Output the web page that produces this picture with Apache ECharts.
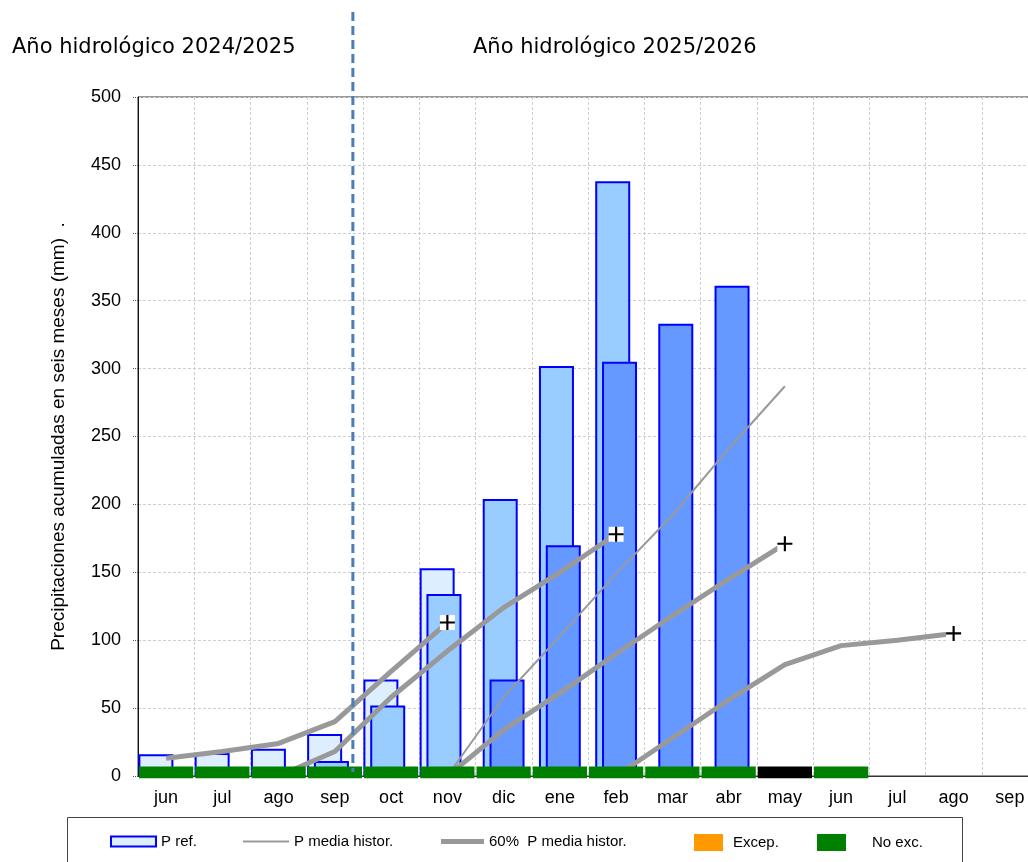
<!DOCTYPE html>
<html>
<head>
<meta charset="utf-8">
<script src="https://cdn.jsdelivr.net/npm/echarts@6/dist/echarts.min.js"></script>
<style>
html, body { margin: 0; padding: 0; background: #fff; }
#chart { width: 1028px; height: 862px; }
</style>
</head>
<body>
<div id="chart"></div>
<script>
// meses: jun 2024 .. sep 2026 (dos años hidrológicos)
var months = ['jun', 'jul', 'ago', 'sep', 'oct', 'nov', 'dic', 'ene', 'feb', 'mar', 'abr', 'may', 'jun', 'jul', 'ago', 'sep'];

// precipitación acumulada en seis meses (mm), tres series solapadas
var pRefA = [16, 17, 20, 31, 71, 153, null, null, null, null, null, null, null, null, null, null];
var pRefB = [null, null, null, 11, 52, 134, 204, 302, 438, null, null, null, null, null, null, null];
var pRefC = [null, null, null, null, null, null, 71, 170, 305, 333, 361, null, null, null, null, null];

// P media histórica acumulada
var pMedia = [null, null, null, null, null, 0, 58, 103, 149, 192, 241, 287, null, null, null, null];

// 60% de la P media histórica, una curva por ventana
var p60a = [13, 18, 24, 40, 77, 113, null, null, null, null, null, null, null, null, null, null];
var p60b = [null, null, 0, 18, 58, 92, 124, 150, 178, null, null, null, null, null, null, null];
var p60c = [null, null, null, null, null, 0, 34, 61, 90, 118, 145, 171, null, null, null, null];
var p60d = [null, null, null, null, null, null, null, null, 0, 28, 56, 82, 96, 100, 105, null];

// estado por mes: 0 = no exc., 1 = excep., 2 = sin dato
var estado = [0, 0, 0, 0, 0, 0, 0, 0, 0, 0, 0, 2, 0, null, null, null];

var yTicks = { min: 0, max: 500, step: 50 };

var chart = echarts.init(document.getElementById('chart'));

var blue = '#0000ff';
var gris = '#999999';
var estadoColor = ['#008000', '#ff9900', '#000000'];

function refBar(data, color) {
    return {
        name: 'P ref.',
        type: 'bar',
        data: data,
        barWidth: 35,
        barGap: '-80.5%',
        itemStyle: { color: color, borderColor: blue, borderWidth: 2 }
    };
}

function p60Line(data) {
    return {
        name: '60% P media histor.',
        type: 'line',
        data: data,
        symbol: 'none',
        z: 3,
        lineStyle: { color: gris, width: 5 },
        itemStyle: { color: gris }
    };
}

// final de cada curva del 60%
var finales = [];
[p60a, p60b, p60c, p60d].forEach(function (arr) {
    for (var i = arr.length - 1; i >= 0; i--) {
        if (arr[i] != null) { finales.push([i, arr[i]]); break; }
    }
});

var estadoData = [];
estado.forEach(function (s, i) {
    if (s != null) estadoData.push([i, s]);
});

var legendText = { fontFamily: 'Liberation Sans', fontSize: 15, color: '#000' };
var titleText = { fontFamily: 'DejaVu Sans', fontSize: 21, fontWeight: 'normal', color: '#000' };

var option = {
    animation: false,
    textStyle: { fontFamily: 'Liberation Sans' },
    title: [
        { text: 'Año hidrológico 2024/2025', left: 12, top: 37, padding: 0, textStyle: titleText },
        { text: 'Año hidrológico 2025/2026', left: 473, top: 37, padding: 0, textStyle: titleText }
    ],
    grid: {
        left: 138, top: 97, width: 900, bottom: 86,
        outerBoundsMode: 'none',
        show: true, borderColor: '#333', borderWidth: 1
    },
    legend: [
        { left: 110, top: 834, padding: 0, icon: 'rect', itemWidth: 45, itemHeight: 10, textStyle: legendText,
          selectedMode: false,
          data: [{ name: 'P ref.', itemStyle: { color: '#ddeeff', borderColor: blue, borderWidth: 2 } }] },
        { left: 243, top: 834, padding: 0, icon: 'rect', itemWidth: 46, itemHeight: 2, textStyle: legendText,
          selectedMode: false,
          data: [{ name: 'P media histor.', itemStyle: { color: gris } }] },
        { left: 441, top: 834, padding: 0, icon: 'rect', itemWidth: 43, itemHeight: 5, textStyle: legendText,
          selectedMode: false,
          formatter: function () { return '60%  P media histor.'; },
          data: [{ name: '60% P media histor.', itemStyle: { color: gris } }] },
        { left: 694, top: 834, padding: 0, icon: 'rect', itemWidth: 29, itemHeight: 17,
          textStyle: { fontFamily: 'Liberation Sans', fontSize: 15, color: '#000', padding: [0, 0, 0, 5] },
          selectedMode: false,
          data: [{ name: 'Excep.', itemStyle: { color: '#ff9900' } }] },
        { left: 817, top: 834, padding: 0, icon: 'rect', itemWidth: 29, itemHeight: 17,
          textStyle: { fontFamily: 'Liberation Sans', fontSize: 15, color: '#000', padding: [0, 0, 0, 21] },
          selectedMode: false,
          data: [{ name: 'No exc.', itemStyle: { color: '#008000' } }] }
    ],
    xAxis: {
        type: 'category',
        data: months,
        axisLine: { lineStyle: { color: '#333', width: 1 } },
        axisTick: { length: 4, lineStyle: { color: '#333' } },
        axisLabel: { interval: 0, margin: 13, fontSize: 18, color: '#000', fontFamily: 'Liberation Sans' },
        splitLine: { show: true, lineStyle: { color: '#cfcfcf', type: [3, 2] } }
    },
    yAxis: {
        type: 'value',
        min: yTicks.min,
        max: yTicks.max,
        interval: yTicks.step,
        name: 'Precipitaciones acumuladas en seis meses (mm)  .',
        nameLocation: 'middle',
        nameGap: 70,
        nameTextStyle: { fontSize: 19, color: '#000', fontFamily: 'Liberation Sans' },
        axisLine: { show: true, lineStyle: { color: '#111', width: 1 } },
        axisTick: { show: true, length: 6, lineStyle: { color: '#555', type: 'dotted' } },
        axisLabel: { margin: 17, fontSize: 18, color: '#000', fontFamily: 'Liberation Sans' },
        splitLine: { show: true, lineStyle: { color: '#cfcfcf', type: [3, 2] } }
    },
    series: [
        refBar(pRefA, '#ddeeff'),
        refBar(pRefB, '#99ccff'),
        refBar(pRefC, '#6699ff'),
        { name: 'Excep.', type: 'bar', data: [], barWidth: 35, barGap: '-80.5%', itemStyle: { color: '#ff9900' } },
        {
            name: 'P media histor.',
            type: 'line',
            data: pMedia,
            symbol: 'none',
            z: 3,
            lineStyle: { color: gris, width: 2 },
            itemStyle: { color: gris }
        },
        p60Line(p60a),
        p60Line(p60b),
        p60Line(p60c),
        p60Line(p60d),
        {
            name: 'No exc.',
            type: 'custom',
            z: 4,
            data: estadoData,
            itemStyle: { color: '#008000' },
            renderItem: function (params, api) {
                var top = api.coord([api.value(0), 7]);
                var bot = api.coord([api.value(0), -1.7]);
                var w = api.size([1, 0])[0];
                return {
                    type: 'rect',
                    shape: { x: top[0] - w / 2 + 1, y: top[1], width: w - 2, height: bot[1] - top[1] },
                    style: { fill: estadoColor[api.value(1)] }
                };
            }
        },
        {
            name: 'fondo',
            type: 'scatter',
            z: 5,
            data: finales,
            symbol: 'rect',
            symbolSize: 15,
            itemStyle: { color: '#fff', opacity: 1 }
        },
        {
            name: 'fin',
            type: 'scatter',
            z: 6,
            data: finales,
            symbol: 'path://M6,0H8V6H14V8H8V14H6V8H0V6H6Z',
            symbolSize: 15,
            itemStyle: { color: '#000', opacity: 1 }
        }
    ],
    graphic: [
        { id: 'caja', type: 'rect', z: 10,
          shape: { x: 67.5, y: 817.5, width: 895, height: 60 },
          style: { fill: 'none', stroke: '#444', lineWidth: 1 } }
    ]
};
chart.setOption(option);

// línea de separación entre años hidrológicos
var xSep = chart.convertToPixel({ xAxisIndex: 0 }, 3);
var xOct = chart.convertToPixel({ xAxisIndex: 0 }, 4);
var xDiv = xSep + 0.32 * (xOct - xSep);
var yBase = chart.convertToPixel({ yAxisIndex: 0 }, 0);
chart.setOption({
    graphic: [
        { id: 'division', type: 'line', z: 100,
          shape: { x1: xDiv, y1: 12, x2: xDiv, y2: yBase - 4 },
          style: { stroke: '#4a7ebb', lineWidth: 3, lineDash: [9, 5] } }
    ]
});
</script>
</body>
</html>
